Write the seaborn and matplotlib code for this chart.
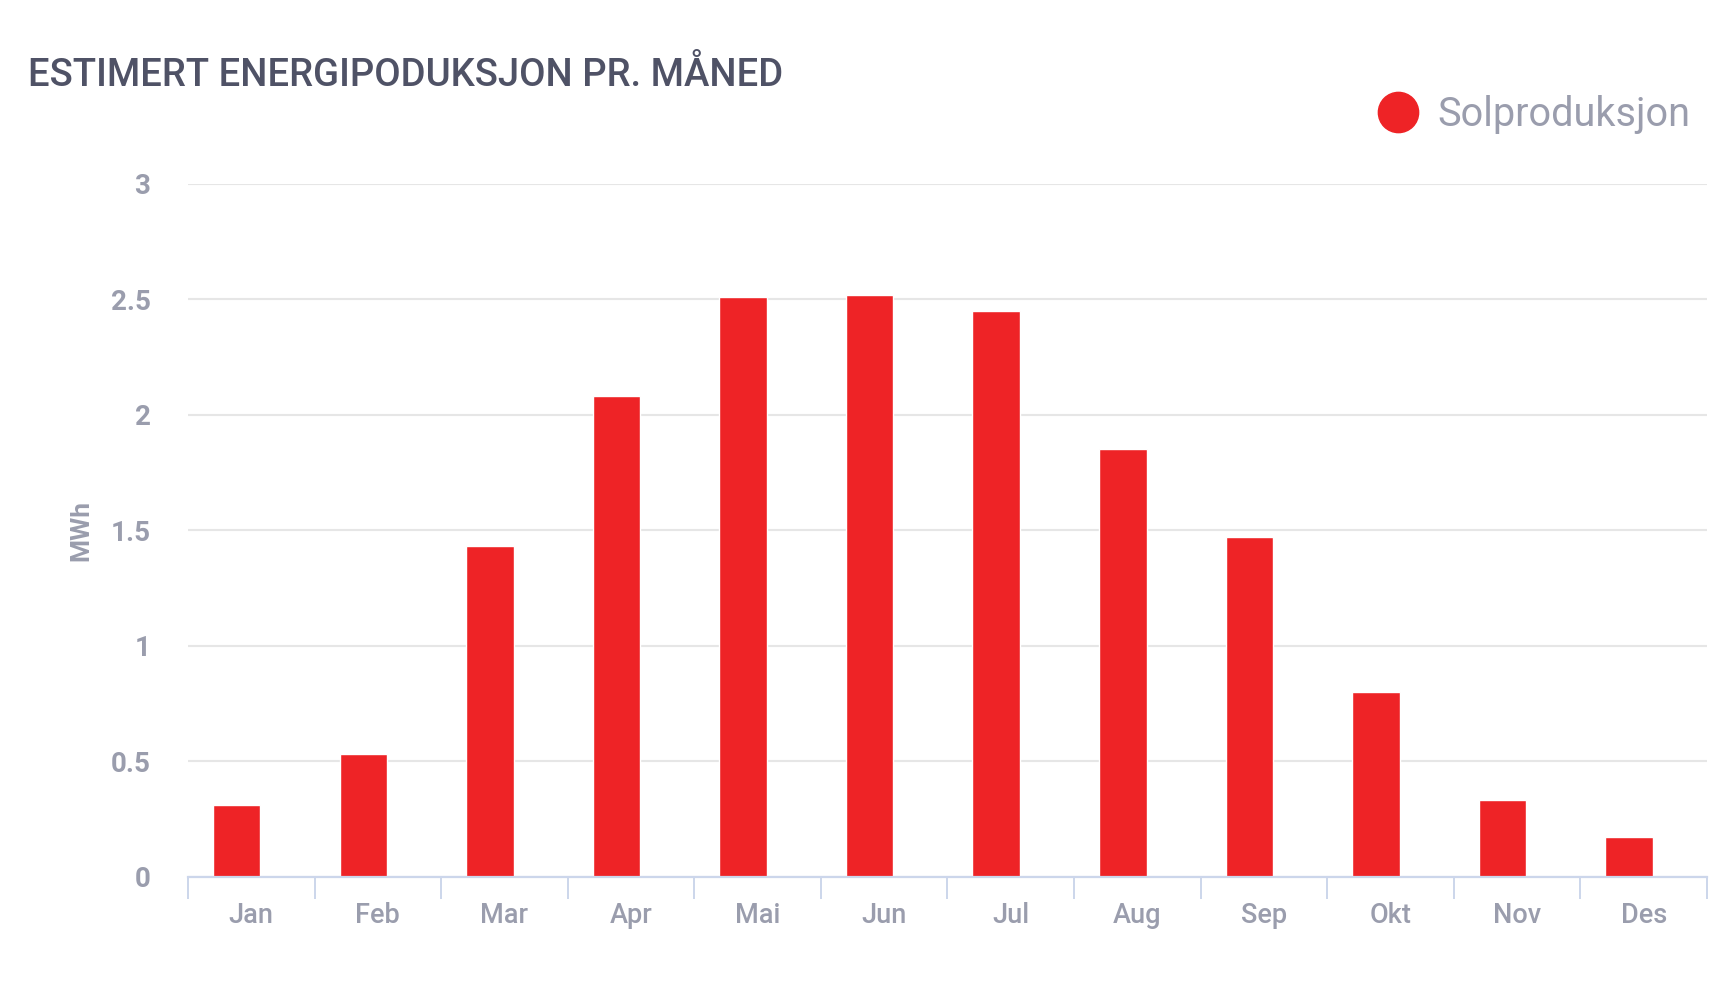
import matplotlib
matplotlib.use("Agg")
import matplotlib.pyplot as plt
from matplotlib.lines import Line2D
import seaborn as sns
import pandas as pd
import numpy as np

months = ["Jan", "Feb", "Mar", "Apr", "Mai", "Jun", "Jul", "Aug", "Sep", "Okt", "Nov", "Des"]
production = [0.31, 0.53, 1.43, 2.08, 2.51, 2.52, 2.45, 1.85, 1.47, 0.80, 0.33, 0.17]
yticks = [0, 0.5, 1, 1.5, 2, 2.5, 3]
ytick_labels = ["0", "0.5", "1", "1.5", "2", "2.5", "3"]
series_name = "Solproduksjon"
title = "ESTIMERT ENERGIPODUKSJON PR. MÅNED"
ylabel = "MWh"

BAR = "#EE2326"
LABEL = "#9A9DAD"
TITLE = "#4F5266"
AXIS = "#CCD6EB"
GRID = "#E6E6E6"

sns.set_theme(style="white")
plt.rcParams["font.family"] = ["Roboto", "DejaVu Sans"]

df = pd.DataFrame({"month": months, "value": production})

fig = plt.figure(figsize=(17.18, 10), dpi=100)
ax = fig.add_axes([0.1094, 0.1235, 0.8842, 0.6925])

sns.barplot(data=df, x="month", y="value", color=BAR, width=0.375,
            saturation=1, ax=ax, zorder=3)
# bars sit slightly left of the category centre, as in the reference
for p in ax.patches:
    p.set_x(p.get_x() - 0.115)

ax.set_ylim(0, 3)
ax.set_xlim(-0.5, len(months) - 0.5)
ax.set_yticks(yticks)
ax.set_yticklabels(ytick_labels)
ax.yaxis.grid(True, color=GRID, linewidth=1.5, zorder=0)
ax.xaxis.grid(False)

for s in ["top", "right", "left"]:
    ax.spines[s].set_visible(False)
ax.spines["bottom"].set_color(AXIS)
ax.spines["bottom"].set_linewidth(1.6)
ax.spines["bottom"].set_zorder(4)

ax.tick_params(axis="y", length=0, pad=27, labelsize=20, labelcolor=LABEL)
for t in ax.get_yticklabels():
    t.set_fontweight("bold")
ax.tick_params(axis="x", which="major", length=0, pad=18.5, labelsize=19.5, labelcolor=LABEL)
for t in ax.get_xticklabels():
    t.set_fontweight("medium")
ax.set_xticks(np.arange(-0.5, len(months), 1.0), minor=True)
ax.tick_params(axis="x", which="minor", bottom=True, length=16, width=1.4,
               color=AXIS, direction="out")

ax.set_xlabel("")
ax.set_ylabel(ylabel, fontsize=19, color=LABEL, fontweight="bold")
ax.yaxis.set_label_coords(-0.062, 0.5)

fig.text(0.0165, 0.9145, title, fontsize=27.5, color=TITLE, fontweight="medium",
         ha="left", va="baseline")

handle = Line2D([], [], marker="o", linestyle="none", markersize=29,
                markerfacecolor=BAR, markeredgecolor=BAR)
fig.legend([handle], [series_name], loc="center right",
           bbox_to_anchor=(0.9934, 0.886), frameon=False, fontsize=28.5,
           labelcolor=LABEL, handletextpad=0.45, borderaxespad=0, handlelength=1.1)

fig.savefig("out.png", dpi=100, facecolor="white")
